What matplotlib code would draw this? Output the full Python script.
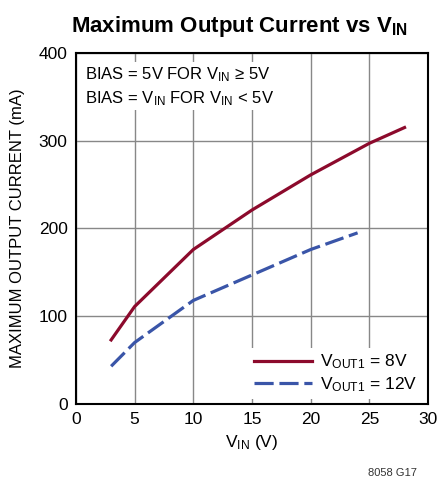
import matplotlib
matplotlib.use("Agg")
import matplotlib.pyplot as plt
from matplotlib import font_manager

# pick a narrow font if we have it
names = set(f.name for f in font_manager.fontManager.ttflist)
fam = 'Liberation Sans Narrow' if 'Liberation Sans Narrow' in names else 'Liberation Sans'
plt.rcParams['font.family'] = [fam, 'DejaVu Sans']
plt.rcParams['mathtext.fontset'] = 'custom'
plt.rcParams['mathtext.rm'] = fam
plt.rcParams['mathtext.bf'] = fam + ':bold'

# data
vin_8v = [3, 5, 10, 15, 20, 25, 28]
iout_8v = [73, 111, 176, 221, 261, 297, 315]
vin_12v = [3, 5, 10, 15, 20, 24]
iout_12v = [43, 70, 118, 147, 176, 195]

xticks = [0, 5, 10, 15, 20, 25, 30]
yticks = [0, 100, 200, 300, 400]

red = '#8c0a2c'
blue = '#3a55a8'

fig = plt.figure(figsize=(4.44, 4.9), dpi=100)
ax = fig.add_axes([0.171, 0.1755, 0.793, 0.7165])

ax.plot(vin_8v, iout_8v, color=red, lw=2.3, label=r'$\mathregular{V_{OUT1}}$ = 8V', zorder=3)
ax.plot(vin_12v, iout_12v, color=blue, lw=2.3, dashes=(6, 1.8), label=r'$\mathregular{V_{OUT1}}$ = 12V', zorder=3)

ax.set_xlim(0, 30)
ax.set_ylim(0, 400)
ax.set_xticks(xticks)
ax.set_yticks(yticks)
ax.grid(True, color='#888888', lw=1)
ax.set_axisbelow(True)
for s in ax.spines.values():
    s.set_linewidth(1.5)
ax.tick_params(length=0, labelsize=12.5, pad=6)

ax.set_xlabel(r'$\mathregular{V_{IN}}$ (V)', fontsize=12.5, labelpad=4)
ax.set_ylabel('MAXIMUM OUTPUT CURRENT (mA)', fontsize=12, labelpad=10)

ax.text(0.025, 0.965, 'BIAS = 5V FOR $\\mathregular{V_{IN}}$ \u2265 5V\nBIAS = $\\mathregular{V_{IN}}$ FOR $\\mathregular{V_{IN}}$ < 5V',
        transform=ax.transAxes, fontsize=12, va='top', ha='left', linespacing=1.35,
        bbox=dict(facecolor='white', edgecolor='none', pad=2), zorder=4)

leg = ax.legend(loc='lower right', fontsize=12.5, frameon=True, handlelength=3.3,
                borderaxespad=0.3, handletextpad=0.5, labelspacing=0.2, borderpad=0.3)
leg.get_frame().set_edgecolor('none')
leg.get_frame().set_facecolor('white')
leg.get_frame().set_alpha(1)
leg.get_frame().set_boxstyle('square', pad=0)

fig.text(0.54, 0.945, r'Maximum Output Current vs $\mathregular{V_{IN}}$', fontsize=16,
         fontweight='bold', ha='center', va='center')
fig.text(0.94, 0.035, '8058 G17', fontsize=8, ha='right', va='center', color='#333333')

fig.savefig('out.png', dpi=100)
